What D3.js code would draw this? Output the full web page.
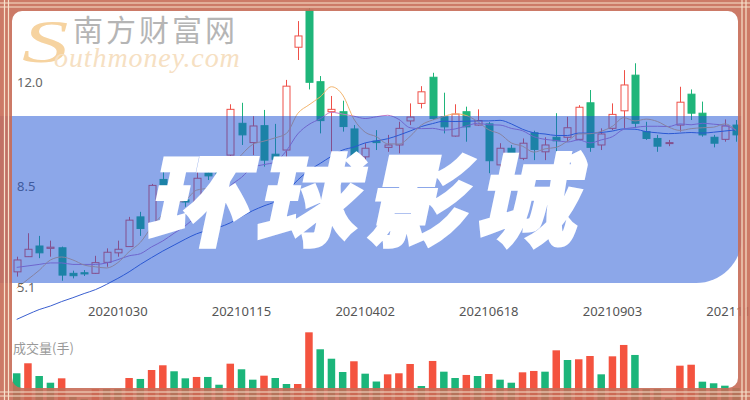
<!DOCTYPE html>
<html><head><meta charset="utf-8">
<script src="https://cdn.jsdelivr.net/npm/d3@7"></script>
<style>html,body{margin:0;padding:0;background:#fff;overflow:hidden}svg{display:block}</style>
</head><body>
<svg id="chart" width="750" height="400"></svg>
<script>
// ---------- data ----------
const dates = ["20200828","20200904","20200911","20200918","20200925","20201002","20201009","20201016","20201023","20201030",
"20201106","20201113","20201120","20201127","20201204","20201211","20201218","20201225","20210101","20210108",
"20210115","20210122","20210129","20210205","20210212","20210219","20210226","20210305","20210312","20210319",
"20210326","20210402","20210409","20210416","20210423","20210430","20210507","20210514","20210521","20210528",
"20210604","20210611","20210618","20210625","20210702","20210709","20210716","20210723","20210730","20210806",
"20210813","20210820","20210827","20210903","20210910","20210917","20210924","20211001","20211008","20211015",
"20211022","20211029","20211105","20211112","20211119"];
const open = [5.60,6.11,6.47,6.39,6.41,5.55,5.57,5.55,5.92,6.24, 6.45,7.45,7.20,8.71,8.49,8.02,7.79,8.93,8.94,9.53,
10.60,9.95,10.52,9.56,9.70,13.16,14.41,12.00,10.99,10.99, 10.41,9.47,10.00,9.79,9.87,10.68,11.27,12.15,10.82,10.17,
10.99,10.54,10.58,9.20,9.76,9.42,10.28,9.64,10.13,10.13, 10.06,11.29,9.87,10.43,11.02,12.22,10.32,10.09,9.94,10.54,
11.58,10.94,10.13,10.06,10.54];
const high = [6.11,6.90,6.81,6.65,6.45,5.64,5.66,6.14,6.39,6.65, 7.45,7.62,8.56,8.97,8.69,8.19,8.97,9.09,9.03,11.24,
11.29,10.84,11.05,10.58,12.06,14.04,14.48,12.19,11.52,11.36, 10.54,9.93,10.37,10.21,10.65,11.27,11.85,12.30,11.63,11.24,
11.16,11.07,10.64,9.93,9.87,10.09,10.35,10.13,10.94,10.82, 11.21,11.72,10.43,11.27,12.39,12.62,10.65,10.21,10.04,11.83,
11.74,11.33,10.21,10.73,10.71];
const low = [5.44,6.10,6.06,6.11,5.30,5.38,5.46,5.53,5.77,6.11, 6.44,6.81,7.18,8.35,7.85,7.79,7.78,8.69,8.72,9.36,
9.87,9.53,9.14,9.26,9.47,12.73,11.74,10.26,9.53,10.32, 9.36,9.36,9.70,9.64,9.59,10.54,11.10,10.71,10.26,10.15,
9.98,10.52,8.92,9.14,9.36,9.36,9.36,9.36,9.64,9.98, 10.04,9.64,9.70,10.37,10.43,10.44,10.04,9.64,9.83,10.32,
10.71,10.15,9.79,9.98,9.98];
const close = [6.00,6.36,6.24,6.43,5.49,5.47,5.53,5.91,6.26,6.36, 7.34,7.06,8.51,8.44,8.08,7.95,8.75,8.83,8.84,11.07,
10.21,10.51,9.36,9.39,11.85,13.54,11.98,10.69,11.07,10.49, 9.47,9.76,9.95,9.87,10.43,10.81,11.66,10.76,10.48,10.91,
10.48,10.69,9.34,9.76,9.42,9.93,9.72,9.87,10.01,10.45, 11.14,9.79,10.24,10.90,11.89,10.60,10.09,9.83,9.95,11.31,
10.94,10.21,9.93,10.51,10.21];
const volume = [33.4,45.9,30.0,21.6,27.1,4.1,1.5,13.8,13.8,13.8, 27.5,26.3,37.5,43.4,35.9,27.1,28.8,28.8,19.1,45.4,
38.4,25.4,30.4,27.5,20.0,20.0,84.6,63.4,51.6,35.0, 48.4,32.9,23.1,32.1,33.4,45.0,17.5,48.8,35.4,27.5,
31.3,30.0,32.5,25.4,21.6,34.6,36.3,35.4,62.1,50.0, 50.9,55.0,32.1,54.6,68.8,56.3,13.8,13.8,2.0,42.9,
44.1,22.9,20.9,17.9,15.0];
const volumeUp = [0,1,0,0,1,0,0,1,0,0, 1,0,1,1,0,0,1,0,0,1, 0,0,1,0,0,1,1,0,0,0, 1,0,0,1,1,1,0,1,0,0,
1,0,1,0,0,1,1,0,1,0, 1,1,0,1,1,0,0,0,0,1, 1,0,0,0,0];
const ma5 = [5.05,5.35,5.65,6.00,6.10,6.00,5.83,5.77,5.73,5.91, 6.28,6.59,7.11,7.54,7.89,8.01,8.35,8.41,8.49,9.09,
9.54,9.89,10.00,10.11,10.26,10.93,11.22,11.49,11.83,11.55, 10.74,10.30,10.15,9.91,9.90,10.16,10.54,10.71,10.83,10.92,
10.86,10.66,10.38,10.24,9.94,9.83,9.63,9.74,9.79,10.00, 10.24,10.25,10.33,10.50,10.79,10.68,10.74,10.66,10.47,10.36,
10.42,10.45,10.47,10.58,10.36];
const ma10 = [5.75,5.80,5.85,5.90,5.90,5.85,5.85,5.85,5.90,6.01, 6.14,6.21,6.44,6.64,6.90,7.15,7.47,7.76,8.02,8.49,
8.78,9.12,9.21,9.30,9.68,10.24,10.56,10.75,10.97,10.91, 10.84,10.76,10.82,10.87,10.73,10.45,10.42,10.43,10.37,10.41,
10.51,10.60,10.55,10.54,10.43,10.35,10.15,10.06,10.02,9.97, 10.04,9.94,10.04,10.15,10.40,10.46,10.50,10.50,10.49,10.58,
10.55,10.60,10.57,10.53,10.36];
const ma20 = [4.00,4.17,4.33,4.45,4.60,4.73,4.87,5.00,5.18,5.38, 5.60,5.85,6.08,6.30,6.50,6.70,6.88,7.00,7.10,7.25,
7.46,7.66,7.82,7.97,8.29,8.69,9.01,9.25,9.49,9.70, 9.80,9.94,10.01,10.08,10.20,10.34,10.49,10.59,10.67,10.66,
10.67,10.68,10.68,10.70,10.58,10.40,10.28,10.24,10.19,10.19, 10.27,10.27,10.29,10.34,10.41,10.40,10.32,10.28,10.25,10.27,
10.29,10.27,10.30,10.34,10.38];
const priceTicks = [12.0, 8.5, 5.1];
const dateTicks = ["20201030","20210115","20210402","20210618","20210903","20211119"];
const titleText = "环球影城";
const volumeLabel = "成交量(手)";
const brandCN = "南方财富网";
const brandS = "S";
const brandEN = "outhmoney.com";

// ---------- setup ----------
const W = 750, H = 400;
const svg = d3.select("#chart");
const UP = "#ef5048", DOWN = "#1fb57a";
const VUP = "#f4533f", VDOWN = "#1bb57a";

const x = d3.scalePoint().domain(dates).range([16.7, 736.1]);
const y = d3.scaleLinear().domain([5.1, 12.0]).range([286.7, 81.7]);
const yv = d3.scaleLinear().domain([0, 100]).range([400, 320]);

svg.append("rect").attr("width", W).attr("height", H).attr("fill", "#fff");

// watermark
const wm = svg.append("g");
wm.append("text").text(brandS)
  .attr("transform", "translate(22,62) scale(1.5,1)")
  .attr("font-family", "Liberation Serif").attr("font-style", "italic")
  .attr("font-size", 62).attr("fill", "#f6d3a0");
wm.append("text").text(brandEN)
  .attr("x", 54).attr("y", 67)
  .attr("font-family", "Liberation Serif").attr("font-style", "italic")
  .attr("font-size", 28).attr("letter-spacing", 0.9).attr("fill", "#f6e0c2");
wm.append("text").text(brandCN)
  .attr("x", 73).attr("y", 41)
  .attr("font-family", "Noto Sans CJK SC").attr("font-size", 30)
  .attr("letter-spacing", 3).attr("fill", "#b5b5b5");

const idx = d3.range(dates.length);
const cx = i => Math.round(x(dates[i])) + 0.5;

// volume bars
svg.append("g").selectAll("rect").data(idx).join("rect")
  .attr("x", i => x(dates[i]) - 3.75)
  .attr("width", 7.5)
  .attr("y", i => yv(volume[i]))
  .attr("height", i => yv(0) - yv(volume[i]))
  .attr("fill", i => volumeUp[i] ? VUP : VDOWN);

// candles
const cg = svg.append("g");
const candle = cg.selectAll("g").data(idx).join("g");
candle.append("line")
  .attr("x1", cx).attr("x2", cx)
  .attr("y1", i => y(high[i])).attr("y2", i => y(low[i]))
  .attr("stroke", i => close[i] >= open[i] ? UP : DOWN)
  .attr("stroke-width", 1);
candle.append("rect")
  .attr("x", i => cx(i) - 3.5)
  .attr("width", 7)
  .attr("y", i => y(Math.max(open[i], close[i])))
  .attr("height", i => Math.max(1, Math.abs(y(open[i]) - y(close[i]))))
  .attr("fill", i => close[i] >= open[i] ? "#fff" : DOWN)
  .attr("stroke", i => close[i] >= open[i] ? UP : DOWN)
  .attr("stroke-width", 1);

// moving averages
const line = arr => d3.line().x((d, i) => x(dates[i])).y(d => y(d)).curve(d3.curveMonotoneX)(arr);
svg.append("path").attr("d", line(ma20)).attr("fill", "none").attr("stroke", "#3a5fd0").attr("stroke-width", 1);
svg.append("path").attr("d", line(ma10)).attr("fill", "none").attr("stroke", "#c27ac6").attr("stroke-width", 1);
svg.append("path").attr("d", line(ma5)).attr("fill", "none").attr("stroke", "#f3b46c").attr("stroke-width", 1);

// price labels
svg.append("g").selectAll("text").data(priceTicks).join("text")
  .text(d => d.toFixed(1))
  .attr("x", 17).attr("y", d => y(d))
  .attr("dominant-baseline", "central")
  .attr("font-family", "Noto Sans").attr("font-size", 13).attr("fill", "#666");

// date labels
svg.append("g").selectAll("text").data(dateTicks).join("text")
  .text(d => d)
  .attr("x", d => x(d)).attr("y", 311)
  .attr("text-anchor", "middle").attr("dominant-baseline", "central")
  .attr("font-family", "Noto Sans").attr("font-size", 13).attr("fill", "#555");

svg.append("text").text(volumeLabel)
  .attr("x", 13).attr("y", 347).attr("dominant-baseline", "central")
  .attr("font-family", "Noto Sans CJK SC").attr("font-size", 13).attr("fill", "#999");

// banner
const bx0 = 0, bx1 = 742, by0 = 116, by1 = 283, br = 46;
svg.append("path")
  .attr("d", `M${bx0},${by0}H${bx1}V${by1 - br}A${br},${br} 0 0 1 ${bx1 - br},${by1}H${bx0}Z`)
  .attr("fill", "rgb(25,80,212)").attr("opacity", 0.5);

// title
svg.append("text").text(titleText)
  .attr("transform", "translate(374,194) skewX(-12)")
  .attr("text-anchor", "middle").attr("dominant-baseline", "central")
  .attr("font-family", "Noto Sans CJK SC").attr("font-weight", 900)
  .attr("font-size", 100).attr("letter-spacing", 10)
  .attr("fill", "#fff").attr("stroke", "#fff").attr("stroke-width", 2.5).attr("stroke-linejoin", "miter");

// frame
svg.append("path")
  .attr("d", `M0,0H${W}V${H}H0Z M22,11H728A10,10 0 0 1 738,21V378A10,10 0 0 1 728,388H22A10,10 0 0 1 12,378V21A10,10 0 0 1 22,11Z`)
  .attr("fill-rule", "evenodd").attr("fill", "#c66c57").attr("opacity", 0.9);
const cream = "#f7e2cb";
const fl = svg.append("g").attr("stroke", cream).attr("stroke-width", 1.2);
[3, 7].forEach(v => fl.append("line").attr("x1", 0).attr("x2", W).attr("y1", v).attr("y2", v));
[392, 396].forEach(v => fl.append("line").attr("x1", 0).attr("x2", W).attr("y1", v).attr("y2", v));
[4.5, 8.5].forEach(v => fl.append("line").attr("y1", 0).attr("y2", H).attr("x1", v).attr("x2", v));
[742, 746].forEach(v => fl.append("line").attr("y1", 0).attr("y2", H).attr("x1", v).attr("x2", v));
</script>
</body></html>
